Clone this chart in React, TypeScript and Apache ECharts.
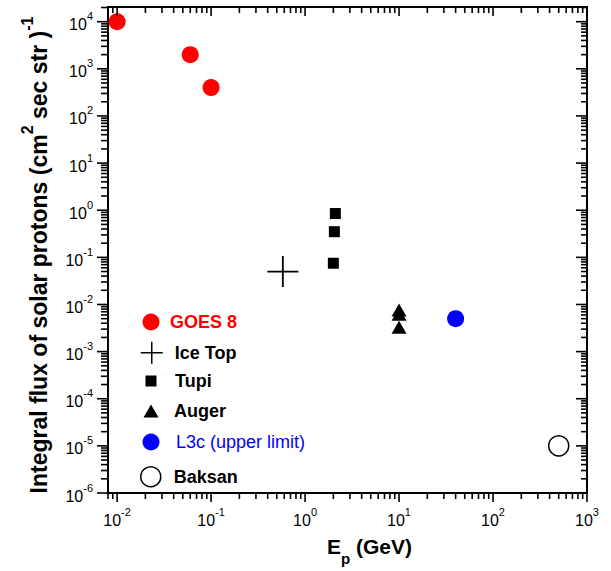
import { useEffect, useRef } from 'react';
import * as echarts from 'echarts';

const FONT = '"Liberation Sans", Arial, Helvetica, sans-serif';

// Proton energy (GeV) and integral flux (cm^2 sec str)^-1 for each experiment
const goesE = [0.01, 0.06, 0.1];
const goesFlux = [1e4, 2000, 400];
const iceTopE = [0.58];
const iceTopFlux = [0.05];
const tupiE = [2.1, 2.05, 2.0];
const tupiFlux = [0.85, 0.35, 0.075];
const augerE = [10, 10, 10];
const augerFlux = [0.0076, 0.0062, 0.0033];
const l3cE = [40];
const l3cFlux = [0.005];
const baksanE = [500];
const baksanFlux = [1e-5];

// Decade exponents labelled on each axis
const xDecades = [-2, -1, 0, 1, 2, 3];
const yDecades = [-6, -5, -4, -3, -2, -1, 0, 1, 2, 3, 4];

const X_MIN = 0.008;
const X_MAX = 1000;
const Y_MIN = 1e-6;
const Y_MAX = 2.05e4;

const zip = (a: number[], b: number[]) => a.map((v, i) => [v, b[i]]);

// Log ticks (1..9 x 10^n) inside [lo, hi]; item: [value, isMajor, exponent]
function logTicks(lo: number, hi: number, decades: number[]) {
  const out: number[][] = [];
  const first = decades[0] - 1;
  const last = decades[decades.length - 1];
  for (let e = first; e <= last; e++) {
    for (let m = 1; m <= 9; m++) {
      const v = m * Math.pow(10, e);
      if (v >= lo * 0.9999 && v <= hi * 1.0001) out.push([v, m === 1 ? 1 : 0, e]);
    }
  }
  return out;
}

const labelRich = {
  b: { fontSize: 16, fontFamily: FONT, color: '#000', lineHeight: 22, verticalAlign: 'bottom' },
  s: { fontSize: 11, fontFamily: FONT, color: '#000', lineHeight: 12, verticalAlign: 'top' },
};

const TICK_W = 1.6;

export default function App() {
  const ref = useRef<HTMLDivElement>(null);

  useEffect(() => {
    if (!ref.current) return;
    const chart = echarts.init(ref.current, null, { renderer: 'svg' });

    const xTickData = logTicks(X_MIN, X_MAX, xDecades).map((t) => [t[0], 1, t[1], t[2]]);
    const yTickData = logTicks(Y_MIN, Y_MAX, yDecades).map((t) => [1, t[0], t[1], t[2]]);

    // One legend block per series so each key keeps its own marker size
    const legendItem = (
      name: string,
      left: number,
      top: number,
      w: number,
      h: number,
      textPad: number,
      text: any,
      itemStyle: any
    ) => ({
      data: [name],
      left,
      top,
      orient: 'vertical',
      padding: 0,
      itemWidth: w,
      itemHeight: h,
      selectedMode: false,
      textStyle: { fontFamily: FONT, fontSize: 18, padding: [0, 0, 0, textPad], ...text },
      itemStyle,
    });

    chart.setOption({
      animation: false,
      backgroundColor: '#fff',
      grid: {
        left: 108,
        top: 7,
        width: 479,
        height: 489,
        show: true,
        borderColor: '#000',
        borderWidth: 2,
      },
      xAxis: {
        type: 'log',
        min: X_MIN,
        max: X_MAX,
        axisLine: { show: false },
        axisTick: { show: false },
        axisLabel: { show: false },
        splitLine: { show: false },
        name: '{b|E}{sub|p}{b| (GeV)}',
        nameLocation: 'middle',
        nameGap: 43,
        nameTextStyle: {
          padding: [0, 0, 0, 44],
          rich: {
            b: { fontSize: 21, fontWeight: 'bold', fontFamily: FONT, color: '#000', lineHeight: 30, verticalAlign: 'top' },
            sub: { fontSize: 15, fontWeight: 'bold', fontFamily: FONT, color: '#000', lineHeight: 16, verticalAlign: 'bottom' },
          },
        },
      },
      yAxis: {
        type: 'log',
        min: Y_MIN,
        max: Y_MAX,
        axisLine: { show: false },
        axisTick: { show: false },
        axisLabel: { show: false },
        splitLine: { show: false },
        name: '{b|Integral flux of solar protons (cm}{sup|2}{b| sec str )}{sup|-1}',
        nameLocation: 'middle',
        nameRotate: 90,
        nameGap: 58,
        nameTextStyle: {
          padding: [0, 10, 0, 0],
          rich: {
            b: { fontSize: 23, fontWeight: 'bold', fontFamily: FONT, color: '#000', lineHeight: 31, verticalAlign: 'bottom' },
            sup: { fontSize: 16, fontWeight: 'bold', fontFamily: FONT, color: '#000', lineHeight: 16, verticalAlign: 'top' },
          },
        },
      },
      legend: [
        legendItem('GOES 8', 142.5, 313, 17, 17, 5.5, { color: '#ff0000', fontWeight: 'bold' }, { color: '#ff0000', borderWidth: 0, opacity: 1 }),
        legendItem('Ice Top', 140, 341, 22, 22, 7, { color: '#000', fontWeight: 'bold' }, { color: 'transparent', borderColor: '#000', borderWidth: 1.5, opacity: 1 }),
        legendItem('Tupi', 145.5, 372, 11, 11, 13.5, { color: '#000', fontWeight: 'bold' }, { color: '#000', borderWidth: 0, opacity: 1 }),
        legendItem('Auger', 143.5, 402, 15, 13, 10.5, { color: '#000', fontWeight: 'bold' }, { color: '#000', borderWidth: 0, opacity: 1 }),
        legendItem('L3c (upper limit)', 142.5, 433, 17, 17, 11.5, { color: '#0000ff', fontWeight: 'normal' }, { color: '#0000ff', borderWidth: 0, opacity: 1 }),
        legendItem('Baksan', 140, 466, 20, 20, 8, { color: '#000', fontWeight: 'bold' }, { color: '#fff', borderColor: '#000', borderWidth: 1.5, opacity: 1 }),
      ],
      series: [
        {
          name: 'GOES 8',
          type: 'scatter',
          data: zip(goesE, goesFlux),
          symbol: 'circle',
          symbolSize: 17,
          itemStyle: { color: '#ff0000', opacity: 1 },
        },
        {
          name: 'Ice Top',
          type: 'scatter',
          data: zip(iceTopE, iceTopFlux),
          symbol: 'path://M0,15L30,15M15,0L15,30',
          symbolSize: 31,
          itemStyle: { color: 'transparent', borderColor: '#000', borderWidth: 1.8, opacity: 1 },
        },
        {
          name: 'Tupi',
          type: 'scatter',
          data: zip(tupiE, tupiFlux),
          symbol: 'rect',
          symbolSize: 11,
          itemStyle: { color: '#000', opacity: 1 },
        },
        {
          name: 'Auger',
          type: 'scatter',
          data: zip(augerE, augerFlux),
          symbol: 'triangle',
          symbolSize: [15, 13],
          itemStyle: { color: '#000', opacity: 1 },
        },
        {
          name: 'L3c (upper limit)',
          type: 'scatter',
          data: zip(l3cE, l3cFlux),
          symbol: 'circle',
          symbolSize: 17,
          itemStyle: { color: '#0000ff', opacity: 1 },
        },
        {
          name: 'Baksan',
          type: 'scatter',
          data: zip(baksanE, baksanFlux),
          symbol: 'circle',
          symbolSize: 20,
          itemStyle: { color: '#fff', borderColor: '#000', borderWidth: 1.5, opacity: 1 },
        },
        {
          // x ticks: outward on the bottom edge, inward on the top edge
          name: 'xticks',
          type: 'custom',
          clip: false,
          silent: true,
          z: 5,
          encode: { x: 0, y: 1 },
          data: xTickData,
          renderItem: (params: any, api: any) => {
            const cs = params.coordSys;
            const px = api.coord([api.value(0), 1])[0];
            const major = api.value(2) === 1;
            const bottom = cs.y + cs.height;
            const top = cs.y;
            const len = major ? 9 : 6;
            const st = { stroke: '#000', lineWidth: TICK_W };
            const children: any[] = [
              { type: 'line', shape: { x1: px, y1: bottom, x2: px, y2: bottom + len }, style: st },
              { type: 'line', shape: { x1: px, y1: top, x2: px, y2: top + len }, style: st },
            ];
            if (major) {
              children.push({
                type: 'text',
                x: px,
                y: bottom + 13,
                style: {
                  text: `{b|10}{s|${api.value(3)}}`,
                  rich: labelRich,
                  align: 'center',
                  verticalAlign: 'top',
                },
              });
            }
            return { type: 'group', children };
          },
        },
        {
          // y ticks: outward on the left edge, inward on the right edge
          name: 'yticks',
          type: 'custom',
          clip: false,
          silent: true,
          z: 5,
          encode: { x: 0, y: 1 },
          data: yTickData,
          renderItem: (params: any, api: any) => {
            const cs = params.coordSys;
            const py = api.coord([1, api.value(1)])[1];
            const major = api.value(2) === 1;
            const left = cs.x;
            const right = cs.x + cs.width;
            const st = { stroke: '#000', lineWidth: TICK_W };
            const children: any[] = [
              { type: 'line', shape: { x1: left - (major ? 11 : 7), y1: py, x2: left, y2: py }, style: st },
              { type: 'line', shape: { x1: right - (major ? 11 : 6), y1: py, x2: right, y2: py }, style: st },
            ];
            if (major) {
              children.push({
                type: 'text',
                x: left - 15,
                y: py,
                style: {
                  text: `{b|10}{s|${api.value(3)}}`,
                  rich: labelRich,
                  align: 'right',
                  verticalAlign: 'middle',
                },
              });
            }
            return { type: 'group', children };
          },
        },
      ],
    });

    return () => chart.dispose();
  }, []);

  return <div ref={ref} style={{ width: 611, height: 571, position: 'absolute', left: 0, top: 0 }} />;
}
